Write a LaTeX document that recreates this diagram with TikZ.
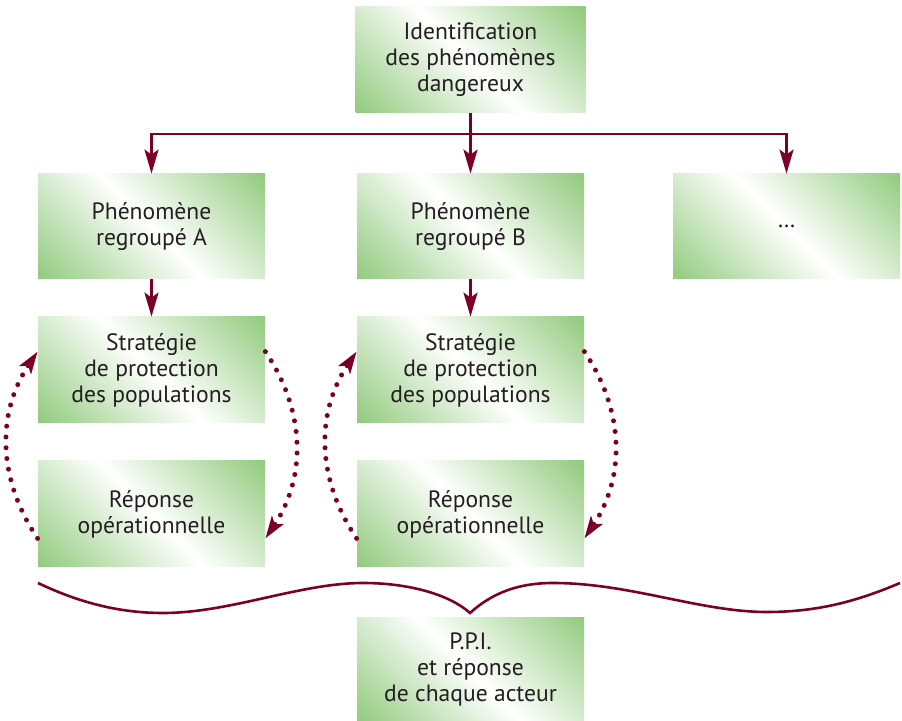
\documentclass[tikz,border=0pt]{standalone}
\usepackage{fontspec}
\setmainfont{PT Sans}
\usetikzlibrary{arrows.meta,calc}
\definecolor{gr}{RGB}{146,203,126}
\definecolor{arr}{RGB}{122,0,38}
\definecolor{txt}{RGB}{35,31,32}
\begin{document}
\begin{tikzpicture}[x=0.5pt,y=-0.5pt,
 gbox/.style={minimum width=113.5pt, minimum height=53pt, inner sep=0pt, align=center, text=txt,
   font=\fontsize{11.8pt}{13pt}\selectfont,
   path picture={\shade[top color=gr,bottom color=gr,middle color=white,shading angle=-45]
     ($(path picture bounding box.center)+(-117,-117)$) rectangle ($(path picture bounding box.center)+(117,117)$);}},
 conn/.style={draw=arr, line width=1.4pt, -{Stealth[length=12pt,width=7pt,inset=2.5pt]}},
 plain/.style={draw=arr, line width=1.4pt},
 dotarr/.style={draw=arr, line width=2.5pt, line cap=round, dash pattern=on 0pt off 5.4pt,
   -{Stealth[length=11pt,width=7pt,inset=2.5pt]}},
 brace/.style={draw=arr, line width=1.3pt}]
\useasboundingbox (0,0) rectangle (902,721);

\node[gbox, minimum width=115pt] (top) at (470.5,60) {Identification\\des phénomènes\\dangereux};
\node[gbox, minimum height=52.5pt] (A) at (151.5,226.5) {Phénomène\\regroupé A};
\node[gbox, minimum height=52.5pt] (B) at (470.5,226.5) {Phénomène\\regroupé B};
\node[gbox, minimum height=52.5pt] (C) at (786.5,226.5) {\dots};
\node[gbox] (SA) at (151.5,370) {Stratégie\\de protection\\des populations};
\node[gbox] (SB) at (470.5,370) {Stratégie\\de protection\\des populations};
\node[gbox] (RA) at (151.5,514) {Réponse\\opérationnelle};
\node[gbox] (RB) at (470.5,514) {Réponse\\opérationnelle};
\node[gbox, minimum height=51.5pt] (P) at (470.5,669.5) {P.P.I.\\et réponse\\de chaque acteur};

\coordinate (j) at (470.5,134);
\draw[plain] (top.south) -- (j);
\draw[conn] (j) -| (A.north);
\draw[conn] (j) -- (B.north);
\draw[conn] (j) -| (C.north);
\draw[conn] (A) -- (SA);
\draw[conn] (B) -- (SB);

\foreach \s/\r in {SA/RA,SB/RB}{
  \coordinate (\s-l) at ($(\s.north west)+(0,35)$);
  \coordinate (\r-l) at ($(\r.south west)+(0,-29)$);
  \coordinate (\s-r) at ($(\s.north east)+(0,35)$);
  \coordinate (\r-r) at ($(\r.south east)+(0,-29)$);
  \draw[dotarr] (\r-l) to[bend left=34] (\s-l);
  \draw[dotarr] (\s-r) to[bend left=34] (\r-r);
}

\draw[brace] (38,583) .. controls (80,603) and (120,613) .. (163,613)
  .. controls (230,613) and (300,583) .. (363,583)
  .. controls (410,583) and (450,595) .. (470,613)
  .. controls (490,595) and (515,583) .. (553,583)
  .. controls (630,583) and (700,612) .. (767,612)
  .. controls (820,612) and (860,600) .. (900,583);
\end{tikzpicture}
\end{document}
